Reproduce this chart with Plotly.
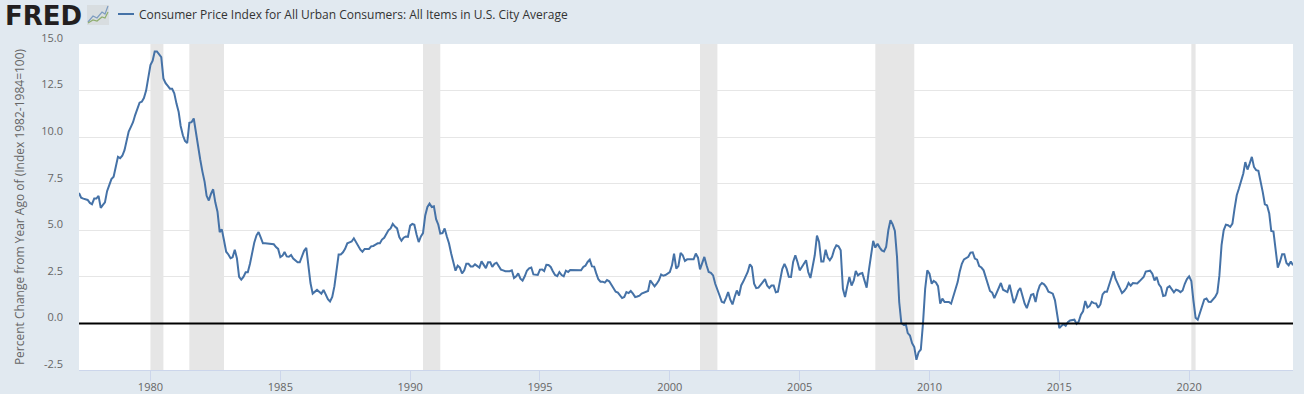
import pandas as pd
import plotly.graph_objects as go

series_name = "Consumer Price Index for All Urban Consumers: All Items in U.S. City Average"
y_title = "Percent Change from Year Ago of (Index 1982-1984=100)"
start_month = "1977-04-01"

cpi_yoy = [
    7.0, 6.75, 6.7, 6.67, 6.63, 6.47, 6.4, 6.7, 6.7,  # 1977 Apr-Dec
    6.85, 6.2, 6.35, 6.5, 7.1, 7.4, 7.75, 7.87, 8.5, 8.94, 8.87, 9.0,  # 1978
    9.3, 9.9, 10.3, 10.55, 10.8, 11.2, 11.5, 11.85, 11.9, 12.1, 12.5, 13.2,  # 1979
    13.87, 14.1, 14.6, 14.6, 14.45, 14.3, 13.15, 12.9, 12.75, 12.6, 12.6, 12.35,  # 1980
    11.8, 11.35, 10.6, 10.1, 9.8, 9.68, 10.77, 10.8, 11.0, 10.2, 9.5, 8.8,  # 1981
    8.15, 7.6, 6.85, 6.6, 6.95, 7.2, 6.5, 6.0, 4.9, 5.05, 4.45, 3.85,  # 1982
    3.7, 3.5, 3.55, 3.95, 3.5, 2.5, 2.35, 2.5, 2.75, 2.75, 3.2, 3.85,  # 1983
    4.35, 4.73, 4.9, 4.6, 4.3, 4.3, 4.28, 4.28, 4.27, 4.25, 4.1, 4.0,  # 1984
    3.56, 3.64, 3.83, 3.6, 3.58, 3.67, 3.48, 3.37, 3.28, 3.28, 3.6, 3.9,  # 1985
    4.05, 3.06, 2.17, 1.6, 1.68, 1.8, 1.7, 1.6, 1.8, 1.58, 1.3, 1.18,  # 1986
    1.42, 2.0, 2.97, 3.7, 3.7, 3.82, 4.0, 4.3, 4.35, 4.4, 4.57, 4.37,  # 1987
    4.14, 3.96, 3.85, 4.0, 4.0, 4.0, 4.14, 4.16, 4.23, 4.3, 4.3, 4.5,  # 1988
    4.6, 4.8, 5.0, 5.1, 5.34, 5.2, 5.1, 4.64, 4.44, 4.6, 4.67, 4.65,  # 1989
    5.25, 5.34, 5.3, 4.77, 4.37, 4.67, 4.85, 5.8, 6.25, 6.43, 6.25, 6.29,  # 1990
    5.6, 5.3, 4.82, 4.85, 5.1, 4.67, 4.3, 3.75, 3.33, 2.83, 3.1, 3.0,  # 1991
    2.68, 2.85, 3.2, 3.2, 3.06, 3.06, 3.17, 3.1, 3.0, 3.33, 3.15, 2.97,  # 1992
    3.28, 3.28, 3.03, 3.2, 3.26, 3.03, 2.89, 2.85, 2.8, 2.8, 2.8, 2.85,  # 1993
    2.44, 2.53, 2.69, 2.4, 2.3, 2.53, 2.83, 2.96, 3.0, 2.63, 2.6, 2.6,  # 1994
    2.89, 2.9, 2.81, 3.15, 3.14, 3.03, 2.8, 2.6, 2.54, 2.76, 2.6, 2.53,  # 1995
    2.83, 2.76, 2.87, 2.87, 2.87, 2.89, 2.89, 2.85, 3.03, 3.1, 3.3, 3.42,  # 1996
    3.06, 3.05, 2.7, 2.37, 2.24, 2.24, 2.19, 2.33, 2.26, 2.08, 1.83, 1.7,  # 1997
    1.65, 1.5, 1.36, 1.42, 1.68, 1.63, 1.74, 1.6, 1.42, 1.45, 1.49, 1.6,  # 1998
    1.65, 1.67, 1.74, 2.31, 2.13, 1.99, 2.13, 2.31, 2.63, 2.56, 2.6, 2.67,  # 1999
    2.76, 3.12, 3.75, 2.94, 3.08, 3.78, 3.66, 3.35, 3.44, 3.44, 3.44, 3.44,  # 2000
    3.75, 3.53, 2.9, 3.2, 3.57, 3.12, 2.76, 2.72, 2.58, 2.13, 1.86, 1.5,  # 2001
    1.16, 1.11, 1.36, 1.68, 1.27, 1.02, 1.42, 1.77, 1.5, 2.04, 2.26, 2.53,  # 2002
    2.76, 3.17, 3.03, 2.13, 1.9, 1.92, 2.04, 2.22, 2.38, 2.04, 1.9, 2.03,  # 2003
    2.03, 1.67, 1.7, 2.31, 2.92, 3.2, 2.94, 2.5, 2.49, 3.3, 3.66, 3.3,  # 2004
    2.85, 3.03, 3.17, 3.39, 2.76, 2.44, 3.03, 3.66, 4.71, 4.37, 3.32, 3.32,  # 2005
    3.96, 3.53, 3.39, 3.57, 3.96, 4.19, 4.14, 3.92, 1.86, 1.42, 1.99, 2.49,  # 2006
    2.03, 2.31, 2.81, 2.58, 2.67, 2.71, 2.31, 1.92, 2.85, 3.75, 4.43, 4.07,  # 2007
    4.28, 4.07, 3.92, 3.87, 4.1, 5.0, 5.54, 5.32, 4.96, 3.57, 1.15, 0.02,  # 2008
    -0.07, -0.02, -0.52, -0.65, -1.06, -1.27, -1.95, -1.54, -1.4, -0.02, 1.86, 2.85,  # 2009
    2.67, 2.13, 2.28, 2.2, 2.0, 1.06, 1.33, 1.15, 1.13, 1.15, 1.06, 1.47,  # 2010
    1.77, 2.22, 2.76, 3.2, 3.44, 3.49, 3.58, 3.8, 3.82, 3.48, 3.42, 3.08,  # 2011
    3.0, 2.85, 2.49, 2.22, 1.74, 1.65, 1.36, 1.63, 1.92, 2.17, 1.81, 1.74,  # 2012
    1.68, 2.08, 1.6, 1.09, 1.36, 1.74, 1.9, 1.47, 1.06, 0.82, 1.24, 1.54,  # 2013
    1.58, 1.15, 1.68, 2.04, 2.17, 2.1, 1.95, 1.7, 1.65, 1.6, 1.24, 0.61,  # 2014
    -0.25, -0.13, -0.04, -0.13, 0.07, 0.16, 0.2, 0.2, -0.02, 0.1, 0.47, 0.65,  # 2015
    1.2, 0.86, 0.93, 1.16, 1.09, 1.07, 0.84, 1.02, 1.56, 1.7, 1.7, 2.1,  # 2016
    2.49, 2.8, 2.4, 2.13, 1.81, 1.63, 1.74, 1.9, 2.17, 2.03, 2.17, 2.15,  # 2017
    2.15, 2.26, 2.37, 2.49, 2.78, 2.81, 2.83, 2.67, 2.31, 2.49, 2.1, 1.95,  # 2018
    1.47, 1.5, 1.92, 2.0, 1.85, 1.67, 1.81, 1.77, 1.68, 1.77, 2.13, 2.38,  # 2019
    2.53, 2.28, 1.24, 0.3, 0.2, 0.6, 0.97, 1.29, 1.34, 1.16, 1.15, 1.29,  # 2020
    1.42, 1.65, 2.55, 4.2, 5.0, 5.3, 5.27, 5.18, 5.36, 6.16, 6.88, 7.24,  # 2021
    7.6, 8.05, 8.66, 8.26, 8.58, 8.94, 8.4, 8.23, 8.19, 7.69, 7.06, 6.4,  # 2022
    6.34, 5.9, 4.96, 4.93, 3.92, 3.0, 3.3, 3.71, 3.71, 3.24, 3.12, 3.33,  # 2023
    3.12,  # 2024 Jan
]
months = pd.date_range(start_month, periods=len(cpi_yoy), freq="MS")

recession_start = ["1980-01-01", "1981-07-01", "1990-07-01", "2001-03-01", "2007-12-01", "2020-02-01"]
recession_end = ["1980-07-01", "1982-11-01", "1991-03-01", "2001-11-01", "2009-06-01", "2020-04-01"]
y_ticks = [-2.5, 0.0, 2.5, 5.0, 7.5, 10.0, 12.5, 15.0]

W, H = 1304, 394
L, R, T, B = 79, 1293, 44, 370
BG = "#e1e9f0"
LINE = "#4572a7"
SHADE = "#e6e6e6"
TEXT = "#666666"
FONT = "Open Sans"


def px(x):
    return (x - L) / (R - L)


def py(y):
    return (B - y) / (B - T)


def path(points):
    return "M " + " L ".join(f"{px(x)},{py(y)}" for x, y in points)


fig = go.Figure()
fig.add_trace(go.Scatter(
    x=months, y=cpi_yoy, mode="lines", name=series_name,
    line=dict(color=LINE, width=2), showlegend=False,
    hovertemplate="%{x|%b %Y}: %{y:.1f}<extra></extra>",
))

shapes = [
    dict(type="rect", xref="x", yref="paper", x0=a, x1=b, y0=0, y1=1,
         fillcolor=SHADE, line_width=0, layer="below")
    for a, b in zip(recession_start, recession_end)
]
# zero line
shapes.append(dict(type="line", xref="paper", yref="y", x0=0, x1=1, y0=0, y1=0,
                   line=dict(color="#000000", width=2), layer="above"))
# legend key
shapes.append(dict(type="line", xref="paper", yref="paper", x0=px(118), x1=px(134),
                   y0=py(14), y1=py(14), line=dict(color=LINE, width=2)))
# logo icon
shapes.append(dict(type="rect", xref="paper", yref="paper", x0=px(87), x1=px(109),
                   y0=py(25), y1=py(5), fillcolor="#d8dde0", line_width=0))
shapes.append(dict(type="path", xref="paper", yref="paper",
                   path=path([(88, 22), (93, 16), (97, 18), (102, 12), (105, 14), (108, 6)]),
                   line=dict(color="#7d9cc0", width=1.2)))
shapes.append(dict(type="path", xref="paper", yref="paper",
                   path=path([(88, 23), (93, 20), (97, 21), (102, 17), (105, 18), (108, 12)]),
                   line=dict(color="#8fae6f", width=1.2)))

annotations = [
    dict(text="<b>FRED</b>", xref="paper", yref="paper", x=px(3), y=py(16), xanchor="left",
         yanchor="middle", showarrow=False, font=dict(family="DejaVu Sans", size=26, color="#231f20")),
    dict(text=series_name, xref="paper", yref="paper", x=px(137), y=py(14.5), xanchor="left",
         yanchor="middle", showarrow=False, font=dict(family=FONT, size=12, color="#333333")),
]

fig.update_layout(
    width=W, height=H,
    margin=dict(l=L, r=W - R, t=T, b=H - B, pad=0, autoexpand=False),
    paper_bgcolor=BG, plot_bgcolor="#ffffff",
    font=dict(family=FONT, size=11, color=TEXT),
    shapes=shapes, annotations=annotations, showlegend=False,
    xaxis=dict(
        type="date", range=[months[0], months[-1]], automargin=False,
        tick0="1980-01-01", dtick="M60", tickformat="%Y",
        ticks="outside", ticklen=10, tickcolor="#ccd6eb", tickwidth=1,
        showgrid=False, showline=True, linecolor="#ccd6eb", linewidth=1, zeroline=False,
        tickfont=dict(size=11, color=TEXT), ticklabelstandoff=-3,
    ),
    yaxis=dict(
        range=[y_ticks[0], y_ticks[-1]], tickmode="array", tickvals=y_ticks, automargin=False,
        ticktext=[f"{v:.1f}" for v in y_ticks],
        showgrid=True, gridcolor=SHADE, gridwidth=1, zeroline=False, showline=False,
        ticks="", ticklabelstandoff=15, ticklabelshift=-6,
        tickfont=dict(size=11, color=TEXT),
        title=dict(text=y_title, font=dict(size=12, color=TEXT), standoff=14),
    ),
)

fig.write_html(
    "out.html",
    config={"displayModeBar": False},
    post_script=f"document.body.style.margin='0';document.body.style.background='{BG}';document.body.style.overflow='hidden';",
)
